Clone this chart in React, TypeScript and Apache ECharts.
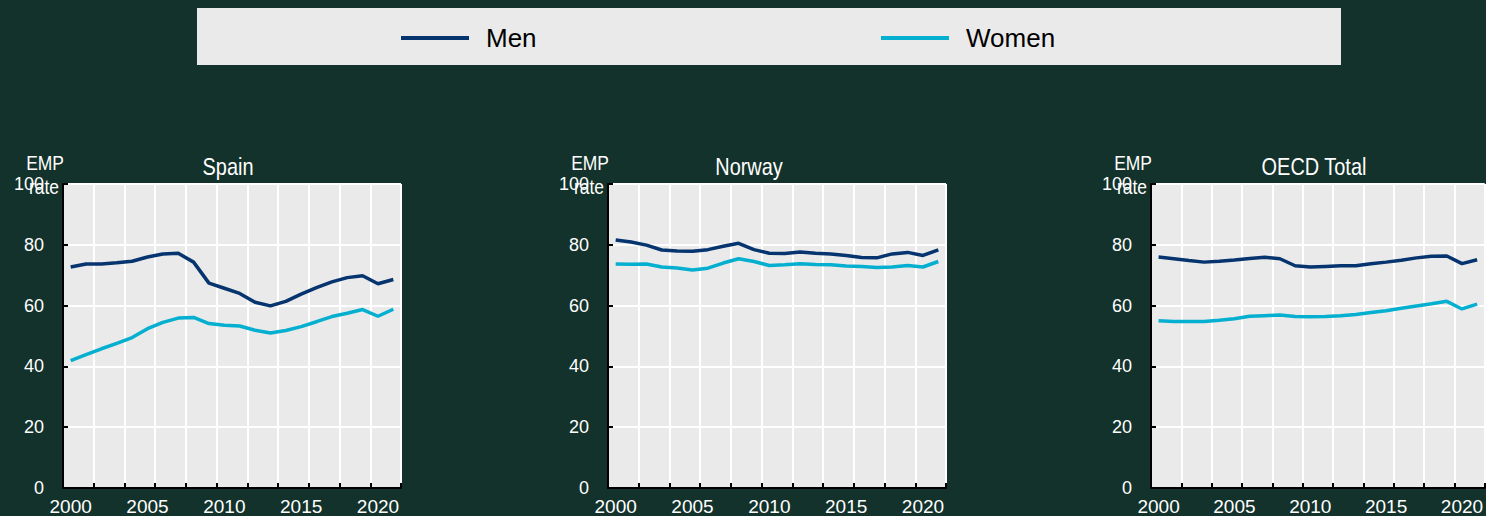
import React, { useEffect, useRef } from "react";
import * as echarts from "echarts";

const years = [
  "2000", "2001", "2002", "2003", "2004", "2005", "2006", "2007", "2008", "2009", "2010",
  "2011", "2012", "2013", "2014", "2015", "2016", "2017", "2018", "2019", "2020", "2021",
];

const panelTitles = ["Spain", "Norway", "OECD Total"];
const seriesNames = ["Men", "Women"];
const yAxisName = ["EMP", "rate"];

const spainMen = [72.7, 73.7, 73.7, 74.1, 74.6, 76.0, 77.0, 77.2, 74.3, 67.4, 65.7, 64.0, 61.1, 59.9, 61.4, 63.8, 65.9, 67.8, 69.2, 69.8, 67.2, 68.6];
const spainWomen = [41.9, 43.9, 45.8, 47.6, 49.5, 52.4, 54.5, 55.9, 56.1, 54.1, 53.5, 53.3, 51.9, 51.0, 51.8, 53.1, 54.7, 56.4, 57.5, 58.7, 56.5, 58.8];
const norwayMen = [81.6, 80.9, 79.9, 78.3, 78.0, 77.9, 78.4, 79.5, 80.5, 78.4, 77.2, 77.1, 77.6, 77.2, 77.0, 76.5, 75.8, 75.7, 77.0, 77.5, 76.5, 78.3];
const norwayWomen = [73.7, 73.6, 73.7, 72.7, 72.4, 71.7, 72.3, 74.0, 75.4, 74.5, 73.2, 73.4, 73.8, 73.5, 73.4, 73.0, 72.9, 72.5, 72.7, 73.2, 72.7, 74.5];
const oecdMen = [76.0, 75.4, 74.8, 74.3, 74.6, 75.0, 75.5, 75.9, 75.4, 73.1, 72.7, 72.9, 73.1, 73.1, 73.8, 74.3, 74.9, 75.7, 76.2, 76.3, 73.8, 75.1];
const oecdWomen = [55.0, 54.8, 54.8, 54.8, 55.2, 55.7, 56.5, 56.7, 56.9, 56.4, 56.3, 56.4, 56.7, 57.1, 57.7, 58.3, 59.1, 59.9, 60.6, 61.4, 58.9, 60.5];

const menByPanel = [spainMen, norwayMen, oecdMen];
const womenByPanel = [spainWomen, norwayWomen, oecdWomen];

const yMin = 0;
const yMax = 100;
const yStep = 20;

// layout / style
const W = 1486;
const H = 516;
const BG = "#13322B";
const MEN = "#06346F";
const WOMEN = "#05AFD0";
const PLOT_BG = "#EAEAEA";
const FONT = "'Liberation Sans', Arial, sans-serif";
const gridLefts = [63, 608, 1151];
const gridTop = 184;
const gridW = 338;
const gridH = 304;
const titleCenters = [228, 749, 1314];
const NARROW = 0.83;

export default function App() {
  const ref = useRef<HTMLDivElement>(null);

  useEffect(() => {
    document.body.style.margin = "0";
    document.body.style.background = BG;
    const chart = echarts.init(ref.current!, null, { renderer: "svg" });

    const grids = gridLefts.map((left) => ({
      left,
      top: gridTop,
      width: gridW,
      height: gridH,
      show: true,
      backgroundColor: PLOT_BG,
      borderWidth: 0,
    }));

    const xAxes = gridLefts.map((_, i) => ({
      gridIndex: i,
      type: "category",
      data: years,
      boundaryGap: true,
      axisLine: { show: true, lineStyle: { color: "#000", width: 2 } },
      axisTick: { show: true, inside: true, length: 5, interval: 1, lineStyle: { color: "#000", width: 2 } },
      axisLabel: { interval: 4, color: "#fff", fontSize: 19, fontFamily: FONT, margin: 9 },
      splitLine: { show: true, interval: 1, lineStyle: { color: "#fff", width: 2 } },
    }));

    const yAxes = gridLefts.map((_, i) => ({
      gridIndex: i,
      type: "value",
      min: yMin,
      max: yMax,
      interval: yStep,
      axisLine: { show: true, lineStyle: { color: "#000", width: 2 } },
      axisTick: { show: true, inside: true, length: 5, lineStyle: { color: "#000", width: 2 } },
      axisLabel: { color: "#fff", fontSize: 18, fontFamily: FONT, margin: 19 },
      splitLine: { show: true, lineStyle: { color: "#fff", width: 2 } },
    }));

    const series: any[] = [];
    gridLefts.forEach((_, i) => {
      series.push({
        type: "line",
        name: seriesNames[0],
        xAxisIndex: i,
        yAxisIndex: i,
        data: menByPanel[i],
        symbol: "none",
        showSymbol: false,
        lineStyle: { color: MEN, width: 3.5 },
        itemStyle: { color: MEN },
        z: 3,
      });
      series.push({
        type: "line",
        name: seriesNames[1],
        xAxisIndex: i,
        yAxisIndex: i,
        data: womenByPanel[i],
        symbol: "none",
        showSymbol: false,
        lineStyle: { color: WOMEN, width: 3.5 },
        itemStyle: { color: WOMEN },
        z: 2,
      });
    });

    const graphics: any[] = [
      {
        type: "rect",
        z: 0,
        shape: { x: 197, y: 8, width: 1144, height: 57 },
        style: { fill: PLOT_BG },
      },
    ];
    panelTitles.forEach((t, i) => {
      graphics.push({
        type: "text",
        z: 5,
        x: titleCenters[i],
        y: 166.5,
        scaleX: NARROW,
        style: { text: t, fill: "#fff", font: `24px ${FONT}`, textAlign: "center", textVerticalAlign: "middle" },
      });
      graphics.push({
        type: "text",
        z: 5,
        x: gridLefts[i] - 18,
        y: 162.5,
        scaleX: NARROW,
        style: { text: yAxisName[0], fill: "#fff", font: `21px ${FONT}`, textAlign: "center", textVerticalAlign: "middle" },
      });
      graphics.push({
        type: "text",
        z: 5,
        x: gridLefts[i] - 19,
        y: 187,
        scaleX: NARROW,
        style: { text: yAxisName[1], fill: "#fff", font: `21px ${FONT}`, textAlign: "center", textVerticalAlign: "middle" },
      });
    });

    const legendBase = {
      top: 25,
      padding: 0,
      icon: "rect",
      itemWidth: 68,
      itemHeight: 4,
      selectedMode: false,
      textStyle: { color: "#000", fontSize: 26, fontFamily: FONT, padding: [0, 0, 0, 12] },
    };

    chart.setOption({
      animation: false,
      backgroundColor: BG,
      textStyle: { fontFamily: FONT },
      legend: [
        { ...legendBase, left: 401, data: [seriesNames[0]] },
        { ...legendBase, left: 881, data: [seriesNames[1]] },
      ],
      graphic: graphics,
      grid: grids,
      xAxis: xAxes,
      yAxis: yAxes,
      series,
    });

    return () => chart.dispose();
  }, []);

  return <div ref={ref} style={{ position: "fixed", left: 0, top: 0, width: W, height: H }} />;
}
